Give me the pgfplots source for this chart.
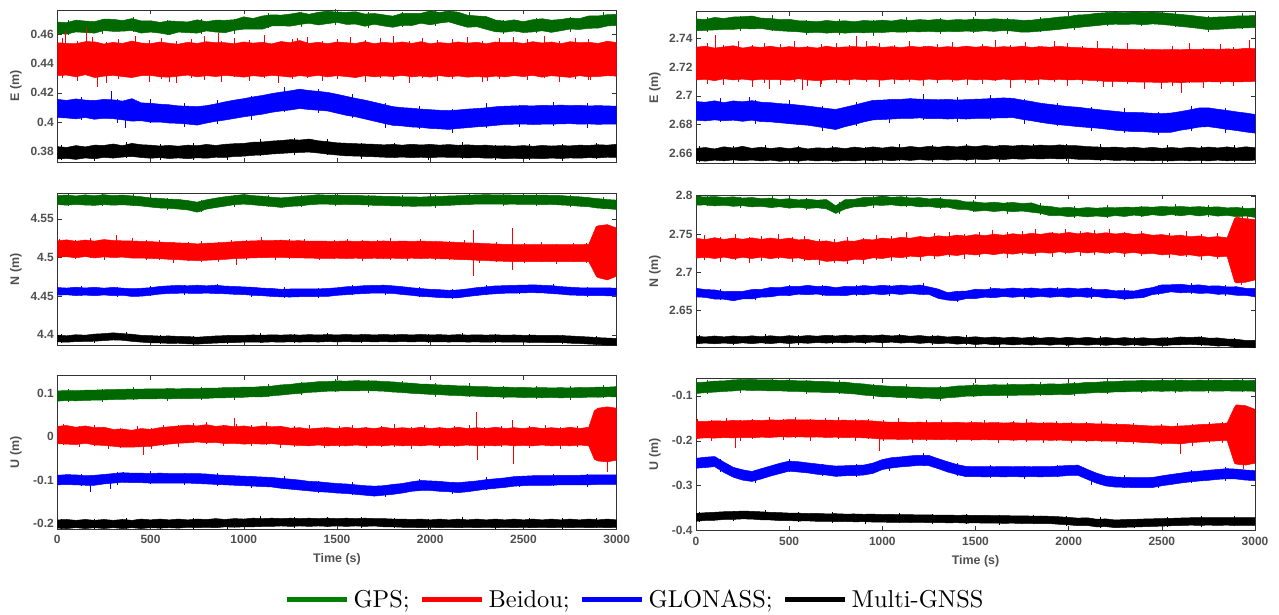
\documentclass[border=0pt]{standalone}
\usepackage{fontspec}
\usepackage{pgfplots}
\usepackage{pgfplotstable}
\pgfplotsset{compat=1.18}
\usepgfplotslibrary{fillbetween}

\newfontfamily\lsans{Liberation Sans}
\newfontfamily\lmten{lmroman10-regular.otf}
\newcommand{\tickfont}{\lsans\bfseries\fontsize{12}{12}\selectfont}
\newcommand{\labfont}{\lsans\bfseries\fontsize{12.5}{12.5}\selectfont}
\newcommand{\legfont}{\lmten\fontsize{24.5}{24.5}\selectfont}

\definecolor{gpsc}{RGB}{0,104,0}
\definecolor{gpsleg}{RGB}{0,128,0}
\definecolor{framec}{RGB}{50,50,50}
\definecolor{labelc}{RGB}{80,80,80}

% t, then upper/lower edge of the GPS, Beidou, GLONASS and Multi-GNSS bands
\pgfplotstableread{
t gu gl ru rl bu bl ku kl
0 0.4687 0.4607 0.4545 0.4318 0.4155 0.4030 0.3830 0.3745
50 0.4683 0.4604 0.4540 0.4322 0.4148 0.4027 0.3824 0.3749
100 0.4700 0.4619 0.4538 0.4310 0.4158 0.4021 0.3837 0.3742
150 0.4694 0.4615 0.4552 0.4325 0.4150 0.4030 0.3828 0.3752
200 0.4690 0.4611 0.4551 0.4305 0.4147 0.4018 0.3840 0.3746
250 0.4707 0.4628 0.4536 0.4315 0.4155 0.4025 0.3838 0.3756
300 0.4706 0.4623 0.4547 0.4320 0.4152 0.4022 0.3848 0.3751
350 0.4697 0.4624 0.4540 0.4312 0.4143 0.4014 0.3836 0.3758
400 0.4711 0.4629 0.4556 0.4305 0.4160 0.4005 0.3852 0.3762
450 0.4695 0.4611 0.4543 0.4318 0.4131 0.4008 0.3843 0.3755
500 0.4696 0.4618 0.4538 0.4320 0.4128 0.3998 0.3840 0.3750
550 0.4685 0.4611 0.4550 0.4310 0.4122 0.3999 0.3834 0.3754
600 0.4695 0.4600 0.4541 0.4308 0.4118 0.3992 0.3838 0.3748
650 0.4691 0.4618 0.4535 0.4315 0.4110 0.3990 0.3833 0.3752
700 0.4688 0.4614 0.4548 0.4322 0.4108 0.3985 0.3840 0.3747
750 0.4702 0.4611 0.4540 0.4310 0.4105 0.3978 0.3836 0.3753
800 0.4690 0.4626 0.4552 0.4318 0.4112 0.3992 0.3845 0.3750
850 0.4700 0.4618 0.4545 0.4312 0.4124 0.4004 0.3838 0.3757
900 0.4699 0.4614 0.4545 0.4320 0.4138 0.4013 0.3846 0.3755
950 0.4703 0.4630 0.4538 0.4315 0.4150 0.4024 0.3850 0.3762
1000 0.4723 0.4638 0.4550 0.4308 0.4160 0.4035 0.3852 0.3764
1050 0.4712 0.4638 0.4542 0.4318 0.4172 0.4044 0.3860 0.3770
1100 0.4729 0.4638 0.4548 0.4312 0.4182 0.4053 0.3862 0.3773
1150 0.4737 0.4660 0.4537 0.4320 0.4195 0.4066 0.3868 0.3779
1200 0.4735 0.4661 0.4553 0.4315 0.4205 0.4075 0.3872 0.3783
1250 0.4742 0.4659 0.4545 0.4308 0.4214 0.4082 0.3878 0.3787
1300 0.4753 0.4670 0.4560 0.4318 0.4225 0.4092 0.3875 0.3790
1350 0.4741 0.4679 0.4540 0.4312 0.4216 0.4085 0.3882 0.3792
1400 0.4754 0.4667 0.4548 0.4320 0.4210 0.4080 0.3870 0.3786
1450 0.4762 0.4676 0.4538 0.4310 0.4203 0.4075 0.3864 0.3778
1500 0.4755 0.4685 0.4550 0.4318 0.4190 0.4060 0.3856 0.3772
1550 0.4754 0.4671 0.4545 0.4312 0.4176 0.4045 0.3853 0.3766
1600 0.4758 0.4673 0.4540 0.4305 0.4162 0.4035 0.3850 0.3765
1650 0.4742 0.4658 0.4552 0.4318 0.4150 0.4020 0.3848 0.3762
1700 0.4746 0.4672 0.4538 0.4310 0.4135 0.4005 0.3846 0.3760
1750 0.4737 0.4660 0.4548 0.4316 0.4120 0.3990 0.3842 0.3757
1800 0.4728 0.4651 0.4542 0.4312 0.4105 0.3976 0.3845 0.3755
1850 0.4747 0.4665 0.4550 0.4320 0.4098 0.3972 0.3840 0.3758
1900 0.4746 0.4663 0.4540 0.4310 0.4094 0.3965 0.3846 0.3754
1950 0.4747 0.4679 0.4552 0.4316 0.4088 0.3962 0.3841 0.3757
2000 0.4764 0.4668 0.4538 0.4308 0.4084 0.3955 0.3845 0.3753
2050 0.4753 0.4680 0.4546 0.4318 0.4080 0.3952 0.3840 0.3758
2100 0.4763 0.4688 0.4540 0.4310 0.4078 0.3948 0.3844 0.3756
2150 0.4755 0.4669 0.4550 0.4316 0.4082 0.3955 0.3839 0.3756
2200 0.4734 0.4651 0.4542 0.4308 0.4088 0.3960 0.3842 0.3752
2250 0.4729 0.4655 0.4548 0.4312 0.4092 0.3966 0.3838 0.3755
2300 0.4725 0.4637 0.4537 0.4308 0.4097 0.3970 0.3840 0.3750
2350 0.4701 0.4620 0.4550 0.4315 0.4104 0.3976 0.3834 0.3752
2400 0.4693 0.4617 0.4545 0.4310 0.4108 0.3982 0.3836 0.3747
2450 0.4702 0.4625 0.4548 0.4318 0.4110 0.3984 0.3833 0.3750
2500 0.4690 0.4615 0.4540 0.4312 0.4112 0.3985 0.3837 0.3746
2550 0.4703 0.4619 0.4552 0.4320 0.4110 0.3982 0.3832 0.3750
2600 0.4710 0.4627 0.4543 0.4308 0.4114 0.3984 0.3838 0.3747
2650 0.4700 0.4616 0.4550 0.4318 0.4112 0.3985 0.3834 0.3751
2700 0.4705 0.4627 0.4538 0.4312 0.4116 0.3986 0.3837 0.3748
2750 0.4715 0.4639 0.4552 0.4306 0.4112 0.3988 0.3835 0.3752
2800 0.4711 0.4636 0.4545 0.4318 0.4114 0.3984 0.3840 0.3750
2850 0.4729 0.4644 0.4548 0.4310 0.4110 0.3986 0.3838 0.3754
2900 0.4729 0.4645 0.4540 0.4312 0.4112 0.3983 0.3843 0.3752
2950 0.4738 0.4660 0.4555 0.4318 0.4110 0.3985 0.3840 0.3757
3000 0.4740 0.4664 0.4546 0.4315 0.4108 0.3984 0.3846 0.3755
}\tabEl

\pgfplotstableread{
t gu gl ru rl bu bl ku kl
0 2.7535 2.7452 2.7338 2.7110 2.6960 2.6830 2.6633 2.6550
50 2.7530 2.7455 2.7345 2.7115 2.6955 2.6825 2.6640 2.6545
100 2.7545 2.7458 2.7332 2.7105 2.6965 2.6832 2.6630 2.6552
150 2.7538 2.7462 2.7340 2.7118 2.6952 2.6826 2.6645 2.6547
200 2.7548 2.7462 2.7348 2.7110 2.6964 2.6830 2.6636 2.6554
250 2.7550 2.7468 2.7332 2.7116 2.6958 2.6822 2.6648 2.6548
300 2.7555 2.7465 2.7342 2.7108 2.6966 2.6830 2.6634 2.6553
350 2.7540 2.7468 2.7336 2.7115 2.6955 2.6820 2.6642 2.6546
400 2.7538 2.7458 2.7345 2.7112 2.6952 2.6818 2.6633 2.6552
450 2.7530 2.7452 2.7334 2.7112 2.6945 2.6812 2.6640 2.6544
500 2.7532 2.7448 2.7342 2.7108 2.6942 2.6806 2.6632 2.6550
550 2.7522 2.7445 2.7335 2.7118 2.6935 2.6800 2.6641 2.6545
600 2.7520 2.7438 2.7340 2.7110 2.6928 2.6795 2.6630 2.6552
650 2.7515 2.7442 2.7332 2.7105 2.6920 2.6785 2.6638 2.6546
700 2.7524 2.7436 2.7345 2.7110 2.6912 2.6775 2.6634 2.6551
750 2.7518 2.7440 2.7335 2.7115 2.6905 2.6765 2.6640 2.6544
800 2.7522 2.7436 2.7340 2.7108 2.6920 2.6785 2.6632 2.6550
850 2.7515 2.7440 2.7342 2.7116 2.6935 2.6800 2.6643 2.6546
900 2.7524 2.7438 2.7338 2.7110 2.6952 2.6818 2.6635 2.6553
950 2.7520 2.7442 2.7345 2.7115 2.6968 2.6832 2.6644 2.6547
1000 2.7526 2.7440 2.7336 2.7108 2.6970 2.6835 2.6636 2.6554
1050 2.7520 2.7445 2.7342 2.7116 2.6974 2.6838 2.6645 2.6548
1100 2.7530 2.7442 2.7335 2.7110 2.6975 2.6842 2.6638 2.6555
1150 2.7524 2.7446 2.7344 2.7115 2.6980 2.6842 2.6647 2.6550
1200 2.7530 2.7445 2.7338 2.7108 2.6976 2.6846 2.6640 2.6556
1250 2.7526 2.7448 2.7345 2.7116 2.6974 2.6840 2.6648 2.6551
1300 2.7532 2.7444 2.7336 2.7110 2.6972 2.6842 2.6642 2.6557
1350 2.7525 2.7448 2.7342 2.7115 2.6975 2.6838 2.6650 2.6552
1400 2.7530 2.7446 2.7337 2.7108 2.6970 2.6841 2.6644 2.6558
1450 2.7528 2.7450 2.7345 2.7116 2.6973 2.6838 2.6652 2.6553
1500 2.7534 2.7447 2.7338 2.7110 2.6976 2.6842 2.6646 2.6559
1550 2.7530 2.7452 2.7344 2.7115 2.6978 2.6842 2.6654 2.6555
1600 2.7536 2.7448 2.7336 2.7108 2.6982 2.6845 2.6648 2.6561
1650 2.7532 2.7454 2.7342 2.7116 2.6985 2.6846 2.6655 2.6556
1700 2.7530 2.7450 2.7338 2.7110 2.6982 2.6848 2.6650 2.6562
1750 2.7525 2.7442 2.7345 2.7115 2.6970 2.6836 2.6656 2.6558
1800 2.7526 2.7444 2.7336 2.7108 2.6960 2.6826 2.6651 2.6563
1850 2.7534 2.7450 2.7342 2.7116 2.6948 2.6815 2.6657 2.6560
1900 2.7540 2.7456 2.7338 2.7110 2.6940 2.6805 2.6652 2.6564
1950 2.7548 2.7462 2.7344 2.7114 2.6932 2.6798 2.6658 2.6560
2000 2.7552 2.7470 2.7338 2.7110 2.6925 2.6792 2.6653 2.6563
2050 2.7562 2.7475 2.7335 2.7112 2.6920 2.6785 2.6652 2.6558
2100 2.7565 2.7482 2.7332 2.7108 2.6912 2.6780 2.6646 2.6558
2150 2.7574 2.7488 2.7330 2.7106 2.6905 2.6775 2.6644 2.6553
2200 2.7578 2.7495 2.7328 2.7100 2.6898 2.6768 2.6640 2.6555
2250 2.7582 2.7498 2.7326 2.7100 2.6892 2.6760 2.6643 2.6550
2300 2.7578 2.7496 2.7324 2.7098 2.6885 2.6755 2.6637 2.6552
2350 2.7583 2.7499 2.7322 2.7096 2.6884 2.6750 2.6642 2.6548
2400 2.7580 2.7494 2.7320 2.7095 2.6882 2.6750 2.6635 2.6551
2450 2.7582 2.7500 2.7322 2.7094 2.6878 2.6746 2.6641 2.6547
2500 2.7578 2.7496 2.7320 2.7092 2.6876 2.6745 2.6634 2.6550
2550 2.7572 2.7490 2.7322 2.7095 2.6880 2.6746 2.6640 2.6546
2600 2.7566 2.7482 2.7320 2.7090 2.6890 2.6760 2.6635 2.6551
2650 2.7560 2.7476 2.7324 2.7096 2.6902 2.6770 2.6642 2.6547
2700 2.7552 2.7468 2.7322 2.7094 2.6915 2.6782 2.6636 2.6551
2750 2.7545 2.7460 2.7325 2.7098 2.6916 2.6785 2.6643 2.6546
2800 2.7548 2.7462 2.7323 2.7096 2.6906 2.6776 2.6637 2.6552
2850 2.7550 2.7466 2.7326 2.7098 2.6898 2.6766 2.6644 2.6547
2900 2.7555 2.7470 2.7324 2.7096 2.6888 2.6758 2.6636 2.6551
2950 2.7556 2.7472 2.7330 2.7098 2.6880 2.6748 2.6645 2.6548
3000 2.7558 2.7475 2.7328 2.7100 2.6870 2.6740 2.6638 2.6552
}\tabEr

\pgfplotstableread{
t gu gl ru rl bu bl ku kl
0 4.5800 4.5685 4.5215 4.5005 4.4612 4.4512 4.3995 4.3910
50 4.5808 4.5676 4.5228 4.5010 4.4605 4.4518 4.3988 4.3905
100 4.5795 4.5686 4.5210 4.4996 4.4616 4.4508 4.4002 4.3913
150 4.5810 4.5678 4.5226 4.5012 4.4606 4.4514 4.3996 4.3915
200 4.5798 4.5674 4.5212 4.4994 4.4615 4.4506 4.4010 4.3918
250 4.5812 4.5684 4.5232 4.5008 4.4604 4.4516 4.4016 4.3926
300 4.5800 4.5676 4.5220 4.5000 4.4614 4.4506 4.4026 4.3934
350 4.5808 4.5682 4.5216 4.5005 4.4604 4.4512 4.4016 4.3930
400 4.5796 4.5674 4.5214 4.4993 4.4596 4.4496 4.4008 4.3916
450 4.5786 4.5666 4.5208 4.4992 4.4602 4.4500 4.3994 4.3906
500 4.5770 4.5652 4.5206 4.4988 4.4610 4.4512 4.3990 4.3898
550 4.5764 4.5640 4.5198 4.4985 4.4626 4.4527 4.3984 4.3896
600 4.5755 4.5636 4.5196 4.4976 4.4634 4.4535 4.3986 4.3890
650 4.5750 4.5626 4.5188 4.4972 4.4640 4.4538 4.3980 4.3892
700 4.5736 4.5615 4.5186 4.4964 4.4634 4.4538 4.3978 4.3884
750 4.5716 4.5586 4.5176 4.4960 4.4642 4.4535 4.3970 4.3880
800 4.5746 4.5625 4.5184 4.4964 4.4634 4.4540 4.3978 4.3888
850 4.5768 4.5646 4.5188 4.4970 4.4642 4.4534 4.3986 4.3894
900 4.5786 4.5664 4.5196 4.4976 4.4630 4.4531 4.3990 4.3898
950 4.5800 4.5683 4.5204 4.4986 4.4626 4.4524 4.3995 4.3901
1000 4.5814 4.5690 4.5212 4.4990 4.4620 4.4521 4.3994 4.3906
1050 4.5800 4.5681 4.5214 4.4996 4.4614 4.4511 4.3999 4.3907
1100 4.5793 4.5669 4.5220 4.4998 4.4604 4.4506 4.3995 4.3904
1150 4.5779 4.5661 4.5218 4.5001 4.4600 4.4497 4.4001 4.3909
1200 4.5771 4.5647 4.5224 4.5002 4.4589 4.4491 4.3997 4.3905
1250 4.5780 4.5661 4.5216 4.4997 4.4593 4.4489 4.4002 4.3911
1300 4.5791 4.5667 4.5217 4.4995 4.4593 4.4493 4.3997 4.3907
1350 4.5800 4.5681 4.5210 4.4992 4.4595 4.4493 4.4003 4.3911
1400 4.5812 4.5689 4.5212 4.4989 4.4594 4.4496 4.3999 4.3907
1450 4.5805 4.5689 4.5210 4.4988 4.4600 4.4497 4.4004 4.3913
1500 4.5807 4.5684 4.5209 4.4991 4.4609 4.4511 4.3999 4.3909
1550 4.5802 4.5686 4.5214 4.4987 4.4622 4.4519 4.4005 4.3913
1600 4.5804 4.5683 4.5207 4.4991 4.4627 4.4529 4.3999 4.3909
1650 4.5797 4.5681 4.5213 4.4987 4.4637 4.4534 4.4005 4.3913
1700 4.5796 4.5674 4.5207 4.4991 4.4639 4.4541 4.3999 4.3909
1750 4.5791 4.5673 4.5214 4.4987 4.4642 4.4539 4.4005 4.3913
1800 4.5789 4.5667 4.5207 4.4991 4.4634 4.4536 4.3999 4.3909
1850 4.5784 4.5666 4.5213 4.4987 4.4623 4.4521 4.4005 4.3913
1900 4.5784 4.5662 4.5207 4.4991 4.4609 4.4511 4.3999 4.3909
1950 4.5781 4.5663 4.5213 4.4987 4.4599 4.4497 4.4005 4.3913
2000 4.5787 4.5665 4.5207 4.4991 4.4589 4.4491 4.3999 4.3909
2050 4.5789 4.5671 4.5206 4.4984 4.4584 4.4482 4.4003 4.3911
2100 4.5796 4.5674 4.5199 4.4981 4.4576 4.4478 4.3997 4.3907
2150 4.5799 4.5681 4.5196 4.4974 4.4581 4.4479 4.4003 4.3911
2200 4.5806 4.5684 4.5189 4.4971 4.4594 4.4496 4.3997 4.3907
2250 4.5809 4.5691 4.5186 4.4964 4.4611 4.4509 4.4001 4.3909
2300 4.5813 4.5691 4.5179 4.4961 4.4621 4.4523 4.3997 4.3905
2350 4.5809 4.5691 4.5176 4.4954 4.4633 4.4531 4.4001 4.3909
2400 4.5810 4.5688 4.5169 4.4951 4.4636 4.4538 4.3995 4.3907
2450 4.5807 4.5689 4.5168 4.4946 4.4641 4.4539 4.3999 4.3905
2500 4.5808 4.5686 4.5166 4.4948 4.4642 4.4544 4.3994 4.3906
2550 4.5805 4.5687 4.5168 4.4946 4.4647 4.4545 4.3996 4.3902
2600 4.5806 4.5684 4.5166 4.4948 4.4641 4.4543 4.3993 4.3903
2650 4.5804 4.5686 4.5168 4.4946 4.4636 4.4534 4.3995 4.3899
2700 4.5801 4.5679 4.5166 4.4948 4.4624 4.4526 4.3991 4.3901
2750 4.5791 4.5673 4.5168 4.4946 4.4616 4.4514 4.3986 4.3892
2800 4.5785 4.5663 4.5166 4.4948 4.4609 4.4511 4.3979 4.3889
2850 4.5774 4.5656 4.5170 4.4948 4.4609 4.4507 4.3973 4.3881
2890 4.5763 4.5641 4.5400 4.4760 4.4606 4.4507 4.3966 4.3877
2900 4.5761 4.5639 4.5410 4.4740 4.4606 4.4508 4.3964 4.3876
2950 4.5749 4.5631 4.5425 4.4710 4.4607 4.4505 4.3959 4.3867
3000 4.5742 4.5620 4.5380 4.4760 4.4604 4.4506 4.3954 4.3867
}\tabNl

\pgfplotstableread{
t gu gl ru rl bu bl ku kl
0 2.7992 2.7878 2.7445 2.7185 2.6792 2.6678 2.6165 2.6068
50 2.7984 2.7880 2.7428 2.7196 2.6774 2.6672 2.6155 2.6075
100 2.7990 2.7868 2.7452 2.7180 2.6770 2.6650 2.6168 2.6066
150 2.7978 2.7876 2.7430 2.7198 2.6748 2.6648 2.6156 2.6076
200 2.7986 2.7862 2.7448 2.7176 2.6752 2.6628 2.6169 2.6066
250 2.7970 2.7870 2.7432 2.7196 2.6750 2.6652 2.6158 2.6078
300 2.7978 2.7855 2.7450 2.7180 2.6775 2.6652 2.6170 2.6068
350 2.7962 2.7862 2.7430 2.7198 2.6776 2.6676 2.6158 2.6079
400 2.7970 2.7846 2.7448 2.7178 2.6802 2.6678 2.6171 2.6068
450 2.7952 2.7856 2.7430 2.7196 2.6800 2.6700 2.6159 2.6080
500 2.7962 2.7838 2.7446 2.7180 2.6818 2.6696 2.6172 2.6069
550 2.7946 2.7850 2.7424 2.7188 2.6814 2.6714 2.6162 2.6080
600 2.7956 2.7834 2.7430 2.7162 2.6830 2.6708 2.6174 2.6072
650 2.7942 2.7843 2.7402 2.7168 2.6814 2.6716 2.6165 2.6082
700 2.7951 2.7829 2.7410 2.7142 2.6819 2.6697 2.6177 2.6075
750 2.7868 2.7770 2.7386 2.7152 2.6799 2.6700 2.6167 2.6084
800 2.7949 2.7827 2.7412 2.7145 2.6816 2.6694 2.6179 2.6076
850 2.7954 2.7856 2.7405 2.7171 2.6811 2.6713 2.6169 2.6087
900 2.7979 2.7857 2.7432 2.7165 2.6827 2.6705 2.6180 2.6078
950 2.7977 2.7879 2.7423 2.7189 2.6817 2.6719 2.6170 2.6089
1000 2.7996 2.7874 2.7447 2.7180 2.6830 2.6708 2.6182 2.6078
1050 2.7980 2.7882 2.7435 2.7201 2.6819 2.6721 2.6168 2.6088
1100 2.7988 2.7866 2.7457 2.7190 2.6832 2.6710 2.6178 2.6075
1150 2.7971 2.7873 2.7445 2.7211 2.6821 2.6723 2.6164 2.6084
1200 2.7976 2.7854 2.7467 2.7200 2.6834 2.6712 2.6174 2.6071
1250 2.7959 2.7861 2.7455 2.7221 2.6809 2.6711 2.6160 2.6080
1300 2.7966 2.7844 2.7477 2.7210 2.6781 2.6659 2.6169 2.6066
1350 2.7949 2.7851 2.7465 2.7231 2.6734 2.6636 2.6154 2.6076
1400 2.7946 2.7824 2.7486 2.7219 2.6751 2.6629 2.6163 2.6061
1450 2.7919 2.7821 2.7473 2.7239 2.6754 2.6656 2.6148 2.6070
1500 2.7919 2.7797 2.7493 2.7226 2.6779 2.6657 2.6158 2.6056
1550 2.7905 2.7807 2.7479 2.7245 2.6773 2.6675 2.6144 2.6066
1600 2.7916 2.7794 2.7498 2.7231 2.6790 2.6668 2.6155 2.6052
1650 2.7903 2.7805 2.7484 2.7250 2.6782 2.6684 2.6142 2.6063
1700 2.7913 2.7791 2.7504 2.7237 2.6795 2.6673 2.6153 2.6050
1750 2.7899 2.7801 2.7490 2.7256 2.6783 2.6685 2.6140 2.6061
1800 2.7907 2.7785 2.7510 2.7243 2.6795 2.6673 2.6152 2.6049
1850 2.7869 2.7771 2.7496 2.7262 2.6783 2.6685 2.6139 2.6060
1900 2.7861 2.7739 2.7516 2.7249 2.6795 2.6673 2.6151 2.6048
1950 2.7841 2.7743 2.7502 2.7268 2.6783 2.6685 2.6139 2.6060
2000 2.7849 2.7727 2.7521 2.7254 2.6795 2.6673 2.6151 2.6048
2050 2.7835 2.7737 2.7503 2.7269 2.6783 2.6685 2.6138 2.6059
2100 2.7846 2.7724 2.7519 2.7252 2.6795 2.6673 2.6150 2.6047
2150 2.7838 2.7736 2.7502 2.7266 2.6772 2.6684 2.6137 2.6058
2200 2.7846 2.7724 2.7517 2.7249 2.6776 2.6664 2.6149 2.6046
2250 2.7843 2.7741 2.7500 2.7264 2.6758 2.6666 2.6136 2.6057
2300 2.7851 2.7729 2.7514 2.7246 2.6762 2.6650 2.6147 2.6045
2350 2.7849 2.7747 2.7496 2.7260 2.6755 2.6661 2.6134 2.6055
2400 2.7856 2.7734 2.7505 2.7239 2.6781 2.6669 2.6145 2.6043
2450 2.7851 2.7753 2.7484 2.7248 2.6801 2.6709 2.6132 2.6053
2500 2.7860 2.7738 2.7493 2.7227 2.6836 2.6724 2.6143 2.6041
2550 2.7854 2.7756 2.7474 2.7238 2.6837 2.6745 2.6140 2.6050
2600 2.7860 2.7738 2.7485 2.7219 2.6844 2.6732 2.6155 2.6053
2650 2.7852 2.7754 2.7465 2.7229 2.6830 2.6738 2.6148 2.6058
2700 2.7858 2.7736 2.7475 2.7209 2.6836 2.6724 2.6155 2.6052
2750 2.7850 2.7752 2.7456 2.7220 2.6820 2.6728 2.6140 2.6048
2800 2.7856 2.7734 2.7467 2.7201 2.6824 2.6712 2.6142 2.6036
2850 2.7842 2.7744 2.7450 2.7210 2.6808 2.6716 2.6128 2.6040
2890 2.7846 2.7730 2.7700 2.6880 2.6811 2.6702 2.6126 2.6024
2900 2.7848 2.7726 2.7720 2.6860 2.6812 2.6700 2.6125 2.6020
2950 2.7834 2.7736 2.7700 2.6870 2.6791 2.6699 2.6110 2.6024
3000 2.7839 2.7717 2.7690 2.6900 2.6790 2.6678 2.6112 2.6015
}\tabNr

\pgfplotstableread{
t gu gl ru rl bu bl ku kl
0 0.1058 0.0822 0.024 -0.016 -0.0890 -0.1110 -0.192 -0.211
50 0.1068 0.0836 0.026 -0.017 -0.0875 -0.1105 -0.191 -0.212
100 0.1062 0.0830 0.022 -0.018 -0.0880 -0.1110 -0.193 -0.210
150 0.1075 0.0840 0.025 -0.015 -0.0900 -0.1120 -0.191 -0.212
200 0.1078 0.0845 0.021 -0.019 -0.0890 -0.1120 -0.193 -0.210
250 0.1085 0.0850 0.022 -0.020 -0.0870 -0.1090 -0.191 -0.212
300 0.1090 0.0860 0.017 -0.022 -0.0850 -0.1070 -0.193 -0.210
350 0.1094 0.0865 0.018 -0.024 -0.0830 -0.1050 -0.191 -0.212
400 0.1102 0.0868 0.015 -0.024 -0.0840 -0.1060 -0.193 -0.210
450 0.1100 0.0874 0.019 -0.023 -0.0840 -0.1060 -0.190 -0.212
500 0.1108 0.0872 0.017 -0.022 -0.0850 -0.1070 -0.192 -0.210
550 0.1103 0.0880 0.021 -0.019 -0.0840 -0.1070 -0.190 -0.211
600 0.1112 0.0875 0.023 -0.017 -0.0850 -0.1070 -0.192 -0.210
650 0.1106 0.0884 0.025 -0.015 -0.0850 -0.1070 -0.190 -0.211
700 0.1116 0.0878 0.027 -0.014 -0.0850 -0.1070 -0.192 -0.209
750 0.1110 0.0888 0.025 -0.012 -0.0850 -0.1080 -0.190 -0.210
800 0.1124 0.0886 0.028 -0.014 -0.0860 -0.1090 -0.191 -0.209
850 0.1122 0.0898 0.024 -0.013 -0.0880 -0.1100 -0.189 -0.210
900 0.1136 0.0900 0.026 -0.016 -0.0890 -0.1110 -0.191 -0.208
950 0.1134 0.0910 0.023 -0.015 -0.0900 -0.1120 -0.189 -0.209
1000 0.1148 0.0912 0.025 -0.017 -0.0910 -0.1130 -0.190 -0.208
1050 0.1145 0.0924 0.022 -0.016 -0.0920 -0.1140 -0.188 -0.208
1100 0.1160 0.0922 0.025 -0.017 -0.0930 -0.1150 -0.189 -0.207
1150 0.1170 0.0945 0.023 -0.016 -0.0940 -0.1160 -0.188 -0.207
1200 0.1198 0.0962 0.024 -0.018 -0.0960 -0.1190 -0.189 -0.206
1250 0.1210 0.0985 0.020 -0.019 -0.0980 -0.1210 -0.188 -0.207
1300 0.1238 0.1002 0.021 -0.020 -0.1000 -0.1230 -0.189 -0.206
1350 0.1250 0.1025 0.018 -0.021 -0.1030 -0.1250 -0.188 -0.207
1400 0.1272 0.1035 0.020 -0.019 -0.1040 -0.1270 -0.189 -0.206
1450 0.1275 0.1052 0.021 -0.021 -0.1060 -0.1280 -0.188 -0.207
1500 0.1290 0.1055 0.019 -0.020 -0.1080 -0.1300 -0.189 -0.206
1550 0.1285 0.1062 0.022 -0.021 -0.1090 -0.1310 -0.188 -0.207
1600 0.1296 0.1060 0.019 -0.019 -0.1110 -0.1330 -0.189 -0.206
1650 0.1290 0.1065 0.021 -0.021 -0.1130 -0.1350 -0.188 -0.207
1700 0.1292 0.1060 0.019 -0.020 -0.1140 -0.1370 -0.189 -0.206
1750 0.1275 0.1052 0.022 -0.021 -0.1130 -0.1350 -0.189 -0.208
1800 0.1268 0.1032 0.019 -0.019 -0.1100 -0.1330 -0.190 -0.208
1850 0.1246 0.1022 0.021 -0.021 -0.1080 -0.1300 -0.190 -0.209
1900 0.1238 0.1002 0.019 -0.020 -0.1040 -0.1260 -0.191 -0.209
1950 0.1215 0.0992 0.022 -0.021 -0.1010 -0.1240 -0.190 -0.210
2000 0.1212 0.0978 0.019 -0.019 -0.1020 -0.1240 -0.192 -0.209
2050 0.1196 0.0972 0.021 -0.021 -0.1030 -0.1260 -0.190 -0.210
2100 0.1192 0.0958 0.019 -0.020 -0.1050 -0.1270 -0.192 -0.209
2150 0.1175 0.0952 0.022 -0.021 -0.1060 -0.1290 -0.190 -0.210
2200 0.1172 0.0938 0.019 -0.019 -0.1040 -0.1270 -0.192 -0.209
2250 0.1158 0.0935 0.021 -0.021 -0.1020 -0.1240 -0.190 -0.210
2300 0.1157 0.0922 0.019 -0.020 -0.0990 -0.1210 -0.192 -0.209
2350 0.1145 0.0924 0.022 -0.021 -0.0970 -0.1190 -0.190 -0.210
2400 0.1148 0.0912 0.019 -0.019 -0.0950 -0.1170 -0.192 -0.209
2450 0.1136 0.0915 0.021 -0.021 -0.0920 -0.1140 -0.190 -0.210
2500 0.1140 0.0905 0.019 -0.020 -0.0910 -0.1130 -0.192 -0.209
2550 0.1130 0.0910 0.022 -0.021 -0.0900 -0.1120 -0.190 -0.210
2600 0.1136 0.0900 0.019 -0.019 -0.0900 -0.1120 -0.192 -0.209
2650 0.1128 0.0908 0.021 -0.021 -0.0900 -0.1120 -0.190 -0.210
2700 0.1134 0.0898 0.019 -0.020 -0.0890 -0.1110 -0.192 -0.209
2750 0.1126 0.0906 0.022 -0.021 -0.0890 -0.1110 -0.190 -0.210
2800 0.1138 0.0902 0.019 -0.019 -0.0890 -0.1110 -0.192 -0.209
2850 0.1135 0.0915 0.022 -0.021 -0.0880 -0.1110 -0.190 -0.210
2880 0.1142 0.0914 0.060 -0.052 -0.0880 -0.1105 -0.191 -0.2095
2900 0.1148 0.0912 0.066 -0.056 -0.0880 -0.1100 -0.192 -0.209
2950 0.1145 0.0925 0.069 -0.058 -0.0880 -0.1100 -0.190 -0.210
3000 0.1158 0.0922 0.066 -0.054 -0.0880 -0.1100 -0.192 -0.209
}\tabUl

\pgfplotstableread{
t gu gl ru rl bu bl ku kl
0 -0.0705 -0.0950 -0.1565 -0.1950 -0.2390 -0.2610 -0.3615 -0.3790
50 -0.0695 -0.0928 -0.1570 -0.1935 -0.2365 -0.2595 -0.3600 -0.3772
100 -0.0672 -0.0918 -0.1555 -0.1940 -0.2350 -0.2575 -0.3590 -0.3768
150 -0.0668 -0.0902 -0.1562 -0.1930 -0.2475 -0.2705 -0.3578 -0.3750
200 -0.0645 -0.0892 -0.1548 -0.1935 -0.2590 -0.2810 -0.3575 -0.3748
250 -0.0638 -0.0872 -0.1555 -0.1928 -0.2645 -0.2875 -0.3562 -0.3738
300 -0.0635 -0.0882 -0.1542 -0.1932 -0.2682 -0.2905 -0.3570 -0.3742
350 -0.0648 -0.0880 -0.1550 -0.1920 -0.2620 -0.2850 -0.3580 -0.3758
400 -0.0645 -0.0892 -0.1535 -0.1925 -0.2560 -0.2785 -0.3592 -0.3762
450 -0.0656 -0.0890 -0.1542 -0.1912 -0.2500 -0.2730 -0.3598 -0.3775
500 -0.0652 -0.0900 -0.1528 -0.1918 -0.2452 -0.2675 -0.3608 -0.3775
550 -0.0668 -0.0902 -0.1535 -0.1910 -0.2465 -0.2695 -0.3610 -0.3785
600 -0.0665 -0.0915 -0.1532 -0.1920 -0.2492 -0.2715 -0.3618 -0.3782
650 -0.0680 -0.0915 -0.1540 -0.1915 -0.2515 -0.2745 -0.3616 -0.3792
700 -0.0682 -0.0930 -0.1538 -0.1925 -0.2540 -0.2762 -0.3625 -0.3790
750 -0.0695 -0.0928 -0.1545 -0.1920 -0.2562 -0.2792 -0.3622 -0.3798
800 -0.0695 -0.0945 -0.1542 -0.1930 -0.2555 -0.2778 -0.3630 -0.3795
850 -0.0722 -0.0958 -0.1550 -0.1925 -0.2545 -0.2775 -0.3628 -0.3802
900 -0.0735 -0.0985 -0.1548 -0.1935 -0.2540 -0.2762 -0.3635 -0.3800
950 -0.0762 -0.0998 -0.1560 -0.1945 -0.2495 -0.2725 -0.3632 -0.3808
1000 -0.0775 -0.1025 -0.1578 -0.1965 -0.2418 -0.2640 -0.3640 -0.3810
1050 -0.0790 -0.1025 -0.1588 -0.1962 -0.2375 -0.2605 -0.3638 -0.3815
1100 -0.0792 -0.1040 -0.1582 -0.1970 -0.2358 -0.2580 -0.3645 -0.3812
1150 -0.0805 -0.1040 -0.1592 -0.1965 -0.2335 -0.2565 -0.3643 -0.3818
1200 -0.0808 -0.1055 -0.1585 -0.1972 -0.2322 -0.2545 -0.3650 -0.3815
1250 -0.0818 -0.1052 -0.1595 -0.1968 -0.2325 -0.2555 -0.3647 -0.3820
1300 -0.0815 -0.1068 -0.1588 -0.1975 -0.2398 -0.2620 -0.3655 -0.3818
1350 -0.0808 -0.1042 -0.1598 -0.1970 -0.2465 -0.2695 -0.3652 -0.3825
1400 -0.0782 -0.1030 -0.1590 -0.1978 -0.2528 -0.2750 -0.3658 -0.3822
1450 -0.0775 -0.1008 -0.1600 -0.1972 -0.2570 -0.2800 -0.3655 -0.3830
1500 -0.0758 -0.1005 -0.1592 -0.1980 -0.2575 -0.2797 -0.3662 -0.3826
1550 -0.0762 -0.0995 -0.1602 -0.1975 -0.2572 -0.2802 -0.3658 -0.3832
1600 -0.0752 -0.0998 -0.1594 -0.1982 -0.2578 -0.2797 -0.3665 -0.3830
1650 -0.0758 -0.0988 -0.1605 -0.1978 -0.2572 -0.2802 -0.3662 -0.3836
1700 -0.0746 -0.0992 -0.1596 -0.1985 -0.2578 -0.2797 -0.3670 -0.3833
1750 -0.0752 -0.0982 -0.1608 -0.1980 -0.2572 -0.2802 -0.3668 -0.3840
1800 -0.0740 -0.0986 -0.1598 -0.1988 -0.2578 -0.2797 -0.3675 -0.3838
1850 -0.0746 -0.0975 -0.1610 -0.1982 -0.2572 -0.2802 -0.3673 -0.3845
1900 -0.0733 -0.0980 -0.1600 -0.1990 -0.2575 -0.2795 -0.3680 -0.3843
1950 -0.0740 -0.0968 -0.1612 -0.1985 -0.2560 -0.2790 -0.3690 -0.3858
2000 -0.0728 -0.0975 -0.1605 -0.1995 -0.2550 -0.2772 -0.3705 -0.3870
2050 -0.0722 -0.0950 -0.1618 -0.1992 -0.2542 -0.2770 -0.3720 -0.3888
2100 -0.0698 -0.0942 -0.1610 -0.2002 -0.2635 -0.2858 -0.3712 -0.3885
2150 -0.0698 -0.0925 -0.1625 -0.1998 -0.2720 -0.2945 -0.3745 -0.3915
2200 -0.0682 -0.0928 -0.1622 -0.2010 -0.2785 -0.3005 -0.3738 -0.3910
2250 -0.0682 -0.0912 -0.1638 -0.2008 -0.2805 -0.3030 -0.3762 -0.3932
2300 -0.0668 -0.0912 -0.1635 -0.2022 -0.2815 -0.3035 -0.3752 -0.3925
2350 -0.0668 -0.0898 -0.1650 -0.2022 -0.2818 -0.3042 -0.3748 -0.3918
2400 -0.0655 -0.0902 -0.1660 -0.2040 -0.2820 -0.3040 -0.3740 -0.3912
2450 -0.0665 -0.0892 -0.1672 -0.2048 -0.2815 -0.3040 -0.3735 -0.3905
2500 -0.0652 -0.0900 -0.1665 -0.2060 -0.2780 -0.3000 -0.3730 -0.3898
2550 -0.0662 -0.0892 -0.1680 -0.2058 -0.2748 -0.2972 -0.3725 -0.3890
2600 -0.0650 -0.0900 -0.1670 -0.2070 -0.2720 -0.2940 -0.3718 -0.3885
2650 -0.0662 -0.0892 -0.1660 -0.2042 -0.2690 -0.2915 -0.3712 -0.3878
2700 -0.0650 -0.0898 -0.1640 -0.2030 -0.2675 -0.2895 -0.3710 -0.3880
2750 -0.0660 -0.0890 -0.1632 -0.2012 -0.2655 -0.2880 -0.3708 -0.3878
2800 -0.0648 -0.0898 -0.1618 -0.2002 -0.2638 -0.2858 -0.3712 -0.3880
2850 -0.0660 -0.0890 -0.1608 -0.1990 -0.2620 -0.2845 -0.3708 -0.3878
2890 -0.0652 -0.0896 -0.1250 -0.2500 -0.2628 -0.2848 -0.3710 -0.3881
2900 -0.0650 -0.0898 -0.1200 -0.2520 -0.2630 -0.2850 -0.3712 -0.3882
2950 -0.0662 -0.0892 -0.1220 -0.2540 -0.2650 -0.2875 -0.3708 -0.3880
3000 -0.0655 -0.0900 -0.1300 -0.2500 -0.2665 -0.2885 -0.3712 -0.3882
}\tabUr

% needles sticking out of a band: t, centre, reach up, reach down
\pgfplotstableread{
t c p m
25 0.4430 0.0144 0.0129
110 0.4430 0.0127 0.0150
190 0.4430 0.0155 0.0124
265 0.4430 0.0121 0.0159
330 0.4430 0.0138 0.0136
420 0.4430 0.0161 0.0122
495 0.4430 0.0132 0.0153
560 0.4430 0.0150 0.0132
640 0.4430 0.0124 0.0163
720 0.4430 0.0140 0.0127
790 0.4430 0.0159 0.0143
880 0.4430 0.0129 0.0156
950 0.4430 0.0147 0.0123
1030 0.4430 0.0136 0.0147
1110 0.4430 0.0167 0.0131
1185 0.4430 0.0122 0.0161
1260 0.4430 0.0143 0.0138
1340 0.4430 0.0152 0.0125
1420 0.4430 0.0127 0.0151
1500 0.4430 0.0138 0.0135
1570 0.4430 0.0156 0.0121
1650 0.4430 0.0131 0.0155
1730 0.4430 0.0145 0.0130
1800 0.4430 0.0163 0.0140
1890 0.4430 0.0125 0.0160
1960 0.4430 0.0150 0.0128
2040 0.4430 0.0133 0.0146
2120 0.4430 0.0141 0.0133
2200 0.4430 0.0154 0.0124
2280 0.4430 0.0128 0.0154
2370 0.4430 0.0146 0.0137
2520 0.4430 0.0137 0.0145
2610 0.4430 0.0161 0.0127
2690 0.4430 0.0130 0.0158
2780 0.4430 0.0148 0.0132
2850 0.4430 0.0139 0.0144
}\ndElr
\pgfplotstableread{
t c p m
60 0.4649 0.0052 0.0048
240 0.4662 0.0046 0.0057
410 0.4661 0.0058 0.0044
590 0.4650 0.0048 0.0054
770 0.4656 0.0054 0.0050
950 0.4667 0.0044 0.0059
1130 0.4690 0.0060 0.0046
1310 0.4708 0.0050 0.0053
1490 0.4719 0.0056 0.0049
1670 0.4706 0.0047 0.0058
1850 0.4701 0.0053 0.0045
2030 0.4717 0.0049 0.0055
2210 0.4699 0.0059 0.0047
2390 0.4657 0.0045 0.0052
2570 0.4661 0.0055 0.0050
2750 0.4672 0.0051 0.0056
2930 0.4700 0.0057 0.0046
}\ndElg
\pgfplotstableread{
t c p m
130 0.4089 0.0083 0.0077
320 0.4084 0.0074 0.0091
500 0.4065 0.0093 0.0070
680 0.4050 0.0077 0.0087
860 0.4067 0.0086 0.0080
1040 0.4106 0.0070 0.0095
1220 0.4144 0.0096 0.0074
1400 0.4146 0.0080 0.0085
1580 0.4103 0.0090 0.0078
1760 0.4052 0.0076 0.0093
1940 0.4026 0.0084 0.0072
2120 0.4014 0.0078 0.0088
2300 0.4034 0.0095 0.0076
2480 0.4047 0.0072 0.0083
2660 0.4049 0.0088 0.0079
2840 0.4049 0.0082 0.0090
}\ndElb
\pgfplotstableread{
t c p m
20 0.3788 0.0056 0.0052
200 0.3793 0.0049 0.0061
370 0.3797 0.0062 0.0047
550 0.3794 0.0052 0.0058
730 0.3794 0.0058 0.0054
910 0.3800 0.0047 0.0064
1090 0.3816 0.0065 0.0049
1270 0.3832 0.0054 0.0057
1450 0.3821 0.0060 0.0052
1630 0.3806 0.0051 0.0062
1810 0.3800 0.0057 0.0048
1990 0.3799 0.0052 0.0059
2170 0.3798 0.0064 0.0051
2350 0.3793 0.0048 0.0056
2530 0.3791 0.0059 0.0053
2710 0.3792 0.0055 0.0060
2890 0.3797 0.0061 0.0050
}\ndElk

\pgfplotstableread{
t c p m
60 2.7224 0.0144 0.0139
145 2.7224 0.0132 0.0148
225 2.7224 0.0158 0.0130
300 2.7224 0.0127 0.0161
365 2.7224 0.0145 0.0137
455 2.7224 0.0137 0.0146
530 2.7224 0.0154 0.0128
595 2.7224 0.0124 0.0154
675 2.7224 0.0133 0.0141
755 2.7224 0.0146 0.0133
825 2.7224 0.0128 0.0150
915 2.7224 0.0160 0.0125
985 2.7224 0.0140 0.0163
1065 2.7224 0.0130 0.0145
1145 2.7224 0.0155 0.0131
1220 2.7224 0.0121 0.0156
1295 2.7224 0.0135 0.0138
1375 2.7224 0.0151 0.0127
1455 2.7224 0.0125 0.0152
1535 2.7224 0.0138 0.0143
1605 2.7224 0.0161 0.0122
1685 2.7224 0.0131 0.0167
1765 2.7224 0.0147 0.0136
1835 2.7224 0.0123 0.0147
1925 2.7224 0.0156 0.0129
1995 2.7224 0.0143 0.0159
2075 2.7222 0.0127 0.0140
2155 2.7218 0.0163 0.0124
2235 2.7213 0.0132 0.0150
2315 2.7211 0.0153 0.0132
2405 2.7209 0.0122 0.0161
2555 2.7209 0.0136 0.0138
2645 2.7209 0.0159 0.0121
2725 2.7209 0.0124 0.0155
2815 2.7209 0.0150 0.0127
2885 2.7209 0.0129 0.0144
}\ndErr
\pgfplotstableread{
t c p m
60 2.7493 0.0055 0.0050
240 2.7508 0.0048 0.0060
410 2.7498 0.0061 0.0046
590 2.7479 0.0050 0.0057
770 2.7479 0.0057 0.0053
950 2.7481 0.0046 0.0062
1130 2.7485 0.0063 0.0048
1310 2.7488 0.0053 0.0056
1490 2.7490 0.0059 0.0051
1670 2.7492 0.0050 0.0061
1850 2.7492 0.0055 0.0047
2030 2.7514 0.0051 0.0058
2210 2.7537 0.0062 0.0050
2390 2.7537 0.0047 0.0055
2570 2.7530 0.0058 0.0052
2750 2.7503 0.0054 0.0059
2930 2.7514 0.0060 0.0049
}\ndErg
\pgfplotstableread{
t c p m
130 2.6897 0.0086 0.0079
320 2.6896 0.0076 0.0094
500 2.6874 0.0096 0.0073
680 2.6848 0.0079 0.0090
860 2.6870 0.0089 0.0083
1040 2.6906 0.0073 0.0098
1220 2.6910 0.0099 0.0076
1400 2.6906 0.0083 0.0088
1580 2.6911 0.0092 0.0081
1760 2.6900 0.0078 0.0096
1940 2.6866 0.0087 0.0074
2120 2.6844 0.0081 0.0091
2300 2.6820 0.0098 0.0078
2480 2.6811 0.0074 0.0086
2660 2.6838 0.0091 0.0082
2840 2.6833 0.0084 0.0092
}\ndErb
\pgfplotstableread{
t c p m
20 2.6592 0.0059 0.0054
200 2.6595 0.0052 0.0064
370 2.6594 0.0065 0.0050
550 2.6593 0.0054 0.0061
730 2.6592 0.0061 0.0056
910 2.6594 0.0050 0.0067
1090 2.6597 0.0068 0.0052
1270 2.6600 0.0056 0.0060
1450 2.6602 0.0063 0.0055
1630 2.6605 0.0053 0.0065
1810 2.6607 0.0059 0.0050
1990 2.6608 0.0055 0.0062
2170 2.6599 0.0067 0.0053
2350 2.6595 0.0050 0.0059
2530 2.6593 0.0062 0.0056
2710 2.6594 0.0058 0.0063
2890 2.6594 0.0064 0.0052
}\ndErk

\pgfplotstableread{
t c p m
10 4.5112 0.0131 0.0118
95 4.5112 0.0116 0.0137
175 4.5112 0.0142 0.0113
250 4.5112 0.0110 0.0145
315 4.5112 0.0126 0.0124
405 4.5110 0.0147 0.0111
480 4.5102 0.0121 0.0140
545 4.5095 0.0137 0.0121
625 4.5084 0.0113 0.0149
705 4.5074 0.0128 0.0116
775 4.5070 0.0145 0.0130
865 4.5082 0.0118 0.0143
935 4.5095 0.0134 0.0112
1015 4.5102 0.0124 0.0134
1095 4.5109 0.0152 0.0120
1170 4.5112 0.0111 0.0147
1245 4.5110 0.0130 0.0126
1325 4.5104 0.0139 0.0114
1405 4.5100 0.0116 0.0138
1485 4.5100 0.0126 0.0123
1555 4.5100 0.0143 0.0110
1635 4.5100 0.0120 0.0142
1715 4.5100 0.0132 0.0119
1785 4.5100 0.0149 0.0128
1875 4.5100 0.0114 0.0146
1945 4.5100 0.0137 0.0117
2025 4.5097 0.0122 0.0133
2105 4.5090 0.0129 0.0122
2185 4.5082 0.0141 0.0113
2265 4.5074 0.0117 0.0141
2355 4.5065 0.0133 0.0125
2505 4.5057 0.0125 0.0132
2595 4.5057 0.0147 0.0116
2675 4.5057 0.0119 0.0144
2765 4.5057 0.0135 0.0121
2835 4.5057 0.0127 0.0131
}\ndNlr
\pgfplotstableread{
t c p m
60 4.5742 0.0079 0.0073
240 4.5748 0.0070 0.0087
410 4.5735 0.0088 0.0067
590 4.5696 0.0073 0.0083
770 4.5660 0.0082 0.0076
950 4.5742 0.0067 0.0090
1130 4.5720 0.0092 0.0070
1310 4.5730 0.0076 0.0081
1490 4.5746 0.0085 0.0074
1670 4.5739 0.0072 0.0088
1850 4.5725 0.0081 0.0068
2030 4.5728 0.0074 0.0084
2210 4.5745 0.0090 0.0072
2390 4.5749 0.0068 0.0079
2570 4.5746 0.0084 0.0076
2750 4.5732 0.0078 0.0085
2930 4.5692 0.0087 0.0071
}\ndNlg
\pgfplotstableread{
t c p m
130 4.4561 0.0065 0.0060
320 4.4560 0.0058 0.0071
500 4.4561 0.0073 0.0055
680 4.4587 0.0060 0.0068
860 4.4588 0.0068 0.0063
1040 4.4563 0.0055 0.0074
1220 4.4540 0.0075 0.0058
1400 4.4545 0.0063 0.0067
1580 4.4574 0.0070 0.0061
1760 4.4590 0.0059 0.0073
1940 4.4549 0.0066 0.0056
2120 4.4528 0.0061 0.0069
2300 4.4572 0.0074 0.0059
2480 4.4592 0.0056 0.0065
2660 4.4584 0.0069 0.0062
2840 4.4558 0.0064 0.0070
}\ndNlb
\pgfplotstableread{
t c p m
20 4.3952 0.0059 0.0054
200 4.3964 0.0052 0.0064
370 4.3972 0.0065 0.0050
550 4.3940 0.0054 0.0061
730 4.3927 0.0061 0.0056
910 4.3945 0.0050 0.0067
1090 4.3950 0.0068 0.0052
1270 4.3955 0.0056 0.0060
1450 4.3958 0.0063 0.0055
1630 4.3957 0.0053 0.0065
1810 4.3955 0.0059 0.0050
1990 4.3955 0.0055 0.0062
2170 4.3956 0.0067 0.0053
2350 4.3955 0.0050 0.0059
2530 4.3950 0.0062 0.0056
2710 4.3946 0.0058 0.0063
2890 4.3921 0.0064 0.0052
}\ndNlk

\pgfplotstableread{
t c p m
45 2.7313 0.0169 0.0151
130 2.7313 0.0149 0.0176
210 2.7313 0.0182 0.0146
285 2.7313 0.0142 0.0186
350 2.7313 0.0162 0.0159
440 2.7313 0.0189 0.0143
515 2.7311 0.0155 0.0180
580 2.7300 0.0176 0.0155
660 2.7283 0.0146 0.0192
740 2.7270 0.0165 0.0149
810 2.7280 0.0186 0.0167
900 2.7298 0.0151 0.0184
970 2.7308 0.0173 0.0144
1050 2.7318 0.0159 0.0173
1130 2.7326 0.0196 0.0154
1205 2.7333 0.0143 0.0189
1280 2.7341 0.0167 0.0162
1360 2.7348 0.0178 0.0147
1440 2.7355 0.0149 0.0177
1520 2.7360 0.0162 0.0158
1590 2.7364 0.0184 0.0142
1670 2.7368 0.0154 0.0182
1750 2.7373 0.0170 0.0153
1820 2.7377 0.0192 0.0165
1910 2.7383 0.0147 0.0188
1980 2.7386 0.0176 0.0150
2060 2.7386 0.0157 0.0171
2140 2.7384 0.0166 0.0157
2220 2.7383 0.0181 0.0146
2300 2.7380 0.0150 0.0181
2390 2.7373 0.0171 0.0161
2540 2.7357 0.0161 0.0170
2630 2.7349 0.0189 0.0149
2710 2.7341 0.0153 0.0185
2800 2.7334 0.0174 0.0155
2860 2.7330 0.0163 0.0169
}\ndNrr
\pgfplotstableread{
t c p m
60 2.7932 0.0078 0.0072
240 2.7921 0.0069 0.0085
410 2.7908 0.0087 0.0066
590 2.7895 0.0072 0.0082
770 2.7840 0.0081 0.0075
950 2.7928 0.0066 0.0089
1130 2.7924 0.0090 0.0069
1310 2.7905 0.0075 0.0080
1490 2.7860 0.0084 0.0073
1670 2.7853 0.0071 0.0087
1850 2.7820 0.0079 0.0067
2030 2.7787 0.0073 0.0083
2210 2.7786 0.0089 0.0071
2390 2.7795 0.0067 0.0078
2570 2.7805 0.0083 0.0074
2750 2.7801 0.0077 0.0084
2930 2.7782 0.0085 0.0070
}\ndNrg
\pgfplotstableread{
t c p m
130 2.6705 0.0073 0.0067
320 2.6720 0.0064 0.0080
500 2.6757 0.0081 0.0062
680 2.6762 0.0067 0.0076
860 2.6762 0.0076 0.0070
1040 2.6770 0.0062 0.0083
1220 2.6772 0.0084 0.0064
1400 2.6690 0.0070 0.0074
1580 2.6726 0.0078 0.0068
1760 2.6734 0.0066 0.0081
1940 2.6734 0.0074 0.0063
2120 2.6734 0.0068 0.0077
2300 2.6706 0.0083 0.0066
2480 2.6770 0.0063 0.0073
2660 2.6784 0.0077 0.0069
2840 2.6762 0.0072 0.0078
}\ndNrb
\pgfplotstableread{
t c p m
20 2.6116 0.0062 0.0058
200 2.6118 0.0055 0.0068
370 2.6119 0.0070 0.0053
550 2.6121 0.0058 0.0065
730 2.6122 0.0065 0.0060
910 2.6128 0.0053 0.0071
1090 2.6127 0.0072 0.0055
1270 2.6120 0.0060 0.0064
1450 2.6109 0.0067 0.0059
1630 2.6100 0.0057 0.0070
1810 2.6099 0.0063 0.0054
1990 2.6100 0.0059 0.0066
2170 2.6097 0.0071 0.0057
2350 2.6095 0.0054 0.0062
2530 2.6094 0.0066 0.0060
2710 2.6104 0.0061 0.0067
2890 2.6073 0.0068 0.0056
}\ndNrk

\pgfplotstableread{
t c p m
35 0.0040 0.0250 0.0224
120 0.0030 0.0220 0.0260
200 0.0010 0.0270 0.0216
275 -0.0010 0.0210 0.0276
340 -0.0030 0.0240 0.0236
430 -0.0030 0.0280 0.0212
505 -0.0020 0.0230 0.0266
570 0.0020 0.0260 0.0230
650 0.0050 0.0216 0.0284
730 0.0065 0.0244 0.0220
800 0.0070 0.0276 0.0248
890 0.0050 0.0224 0.0272
960 0.0040 0.0256 0.0214
1040 0.0040 0.0236 0.0256
1120 0.0040 0.0290 0.0228
1195 0.0030 0.0212 0.0280
1270 0.0010 0.0248 0.0240
1350 0.0000 0.0264 0.0218
1430 0.0000 0.0220 0.0262
1510 0.0000 0.0240 0.0234
1580 0.0000 0.0272 0.0210
1660 0.0000 0.0228 0.0270
1740 0.0000 0.0252 0.0226
1810 0.0000 0.0284 0.0244
1900 0.0000 0.0218 0.0278
1970 0.0000 0.0260 0.0222
2050 0.0000 0.0232 0.0254
2130 0.0000 0.0246 0.0232
2210 0.0000 0.0268 0.0216
2290 0.0000 0.0222 0.0268
2380 0.0000 0.0254 0.0238
2530 0.0000 0.0238 0.0252
2620 0.0000 0.0280 0.0220
2700 0.0000 0.0226 0.0274
2790 0.0000 0.0258 0.0230
2860 0.0000 0.0242 0.0250
}\ndUlr
\pgfplotstableread{
t c p m
60 0.0953 0.0153 0.0142
240 0.0966 0.0136 0.0168
410 0.0985 0.0171 0.0130
590 0.0993 0.0142 0.0160
770 0.0999 0.0159 0.0148
950 0.1022 0.0130 0.0175
1130 0.1050 0.0177 0.0136
1310 0.1121 0.0148 0.0157
1490 0.1172 0.0165 0.0144
1670 0.1177 0.0139 0.0171
1850 0.1134 0.0156 0.0132
2030 0.1090 0.0144 0.0163
2210 0.1055 0.0175 0.0139
2390 0.1030 0.0132 0.0153
2570 0.1020 0.0163 0.0146
2750 0.1016 0.0151 0.0165
2930 0.1035 0.0168 0.0137
}\ndUlg
\pgfplotstableread{
t c p m
130 -0.0998 0.0143 0.0132
320 -0.0950 0.0127 0.0156
500 -0.0960 0.0160 0.0121
680 -0.0960 0.0132 0.0150
860 -0.0990 0.0149 0.0138
1040 -0.1030 0.0121 0.0163
1220 -0.1080 0.0165 0.0127
1400 -0.1155 0.0138 0.0146
1580 -0.1210 0.0154 0.0134
1760 -0.1240 0.0130 0.0160
1940 -0.1130 0.0145 0.0123
2120 -0.1170 0.0134 0.0152
2300 -0.1100 0.0163 0.0130
2480 -0.1025 0.0123 0.0143
2660 -0.1010 0.0152 0.0136
2840 -0.0995 0.0141 0.0154
}\ndUlb
\pgfplotstableread{
t c p m
20 -0.2015 0.0124 0.0114
200 -0.2015 0.0109 0.0135
370 -0.2015 0.0138 0.0105
550 -0.2005 0.0114 0.0129
730 -0.2005 0.0128 0.0119
910 -0.1995 0.0105 0.0141
1090 -0.1980 0.0143 0.0109
1270 -0.1975 0.0119 0.0126
1450 -0.1975 0.0133 0.0116
1630 -0.1975 0.0112 0.0138
1810 -0.1990 0.0125 0.0106
1990 -0.2005 0.0116 0.0131
2170 -0.2000 0.0141 0.0112
2350 -0.2000 0.0106 0.0124
2530 -0.2000 0.0131 0.0118
2710 -0.2005 0.0122 0.0133
2890 -0.2005 0.0135 0.0110
}\ndUlk

\pgfplotstableread{
t c p m
5 -0.1757 0.0238 0.0213
85 -0.1749 0.0209 0.0247
165 -0.1744 0.0257 0.0205
240 -0.1740 0.0200 0.0262
305 -0.1737 0.0228 0.0224
395 -0.1730 0.0266 0.0201
470 -0.1725 0.0219 0.0253
535 -0.1724 0.0247 0.0219
615 -0.1727 0.0205 0.0270
695 -0.1732 0.0232 0.0209
765 -0.1735 0.0262 0.0236
855 -0.1739 0.0213 0.0258
925 -0.1750 0.0243 0.0203
1005 -0.1772 0.0224 0.0243
1085 -0.1776 0.0276 0.0217
1160 -0.1778 0.0201 0.0266
1235 -0.1780 0.0236 0.0228
1315 -0.1782 0.0251 0.0207
1395 -0.1784 0.0209 0.0249
1475 -0.1786 0.0228 0.0222
1545 -0.1787 0.0258 0.0200
1625 -0.1789 0.0217 0.0257
1705 -0.1791 0.0239 0.0215
1775 -0.1793 0.0270 0.0232
1865 -0.1794 0.0207 0.0264
1935 -0.1797 0.0247 0.0211
2015 -0.1801 0.0220 0.0241
2095 -0.1806 0.0234 0.0220
2175 -0.1814 0.0255 0.0205
2255 -0.1822 0.0211 0.0255
2345 -0.1838 0.0241 0.0226
2495 -0.1862 0.0226 0.0239
2585 -0.1869 0.0266 0.0209
2665 -0.1847 0.0215 0.0260
2755 -0.1822 0.0245 0.0219
2825 -0.1806 0.0230 0.0238
}\ndUrr
\pgfplotstableread{
t c p m
60 -0.0810 0.0160 0.0148
240 -0.0755 0.0141 0.0175
410 -0.0768 0.0178 0.0135
590 -0.0790 0.0148 0.0167
770 -0.0812 0.0166 0.0154
950 -0.0880 0.0135 0.0182
1130 -0.0920 0.0185 0.0141
1310 -0.0940 0.0154 0.0164
1490 -0.0882 0.0172 0.0150
1670 -0.0870 0.0145 0.0178
1850 -0.0860 0.0162 0.0138
2030 -0.0840 0.0150 0.0170
2210 -0.0805 0.0182 0.0145
2390 -0.0780 0.0138 0.0160
2570 -0.0777 0.0170 0.0153
2750 -0.0775 0.0157 0.0172
2930 -0.0775 0.0175 0.0143
}\ndUrg
\pgfplotstableread{
t c p m
130 -0.2550 0.0146 0.0134
320 -0.2770 0.0129 0.0159
500 -0.2563 0.0162 0.0123
680 -0.2640 0.0134 0.0152
860 -0.2660 0.0151 0.0140
1040 -0.2500 0.0123 0.0166
1220 -0.2435 0.0168 0.0129
1400 -0.2639 0.0140 0.0149
1580 -0.2687 0.0157 0.0137
1760 -0.2687 0.0132 0.0162
1940 -0.2677 0.0148 0.0125
2120 -0.2820 0.0137 0.0155
2300 -0.2925 0.0166 0.0132
2480 -0.2910 0.0125 0.0146
2660 -0.2805 0.0155 0.0139
2840 -0.2735 0.0143 0.0157
}\ndUrb
\pgfplotstableread{
t c p m
20 -0.3700 0.0113 0.0104
200 -0.3662 0.0100 0.0124
370 -0.3670 0.0126 0.0096
550 -0.3698 0.0104 0.0118
730 -0.3709 0.0117 0.0109
910 -0.3718 0.0096 0.0129
1090 -0.3728 0.0131 0.0100
1270 -0.3733 0.0109 0.0116
1450 -0.3742 0.0122 0.0106
1630 -0.3750 0.0103 0.0126
1810 -0.3757 0.0115 0.0097
1990 -0.3785 0.0106 0.0120
2170 -0.3830 0.0129 0.0103
2350 -0.3833 0.0097 0.0113
2530 -0.3810 0.0120 0.0108
2710 -0.3795 0.0111 0.0122
2890 -0.3797 0.0124 0.0101
}\ndUrk

% one noisy series = band between its upper and lower edge
\newcommand{\band}[4]{%
  \addplot[name path=u#2, draw=#4, line width=0.5bp, forget plot] table[x=t, y=#2] {#1};
  \addplot[name path=l#3, draw=#4, line width=0.5bp, forget plot] table[x=t, y=#3] {#1};
  \addplot[fill=#4, draw=none, forget plot] fill between[of=u#2 and l#3];
}
\newcommand{\needles}[2]{%
  \addplot[draw=none, mark=none, forget plot,
    error bars/y dir=both, error bars/y explicit, error bars/error mark=none,
    error bars/error bar style={draw=#2, line width=0.7bp}]
    table[x=t, y=c, y error plus=p, y error minus=m] {#1};
}
% #1 band table, #2..#5 needle tables for GPS, Beidou, GLONASS, Multi-GNSS
\newcommand{\panel}[5]{%
  \band{#1}{gu}{gl}{gpsc}
  \needles{#2}{gpsc}
  \band{#1}{ru}{rl}{red}
  \needles{#3}{red}
  \band{#1}{bu}{bl}{blue}
  \needles{#4}{blue}
  \band{#1}{ku}{kl}{black}
  \needles{#5}{black}
}

\pgfplotsset{
  panelax/.style={
    scale only axis, width=559.4bp,
    xmin=0, xmax=3000, xtick={0,500,1000,1500,2000,2500,3000},
    tick align=inside, major tick length=4.5bp,
    axis line style={draw=framec, line width=0.6bp},
    every tick/.style={draw=framec, line width=0.5bp},
    tick label style={font=\tickfont, text=labelc},
    label style={font=\labfont, text=labelc},
    xticklabel style={yshift=-3bp},
    unbounded coords=jump,
    /pgf/number format/assume math mode=true,
  },
  leftp/.style={panelax, ylabel style={at={(axis description cs:-0.074,0.5)}, anchor=center}},
  rightp/.style={panelax, width=559bp, ylabel style={at={(axis description cs:-0.0735,0.5)}, anchor=center}},
  noxl/.style={xticklabels={}},
  withxl/.style={xticklabels={0,500,1000,1500,2000,2500,3000}, xlabel={Time (s)},
    xlabel style={at={(axis description cs:0.5,-0.198)}, anchor=center}},
  spike/.style={line width=0.8bp, forget plot},
}

\begin{document}
\begin{tikzpicture}
\path (0,0) rectangle (1279bp,615bp);

% ---- E, left
\begin{axis}[leftp, noxl, at={(57.3bp,452.7bp)}, anchor=south west, height=152.3bp,
  ymin=0.3722, ymax=0.4770, ytick={0.38,0.4,0.42,0.44,0.46},
  yticklabels={0.38,0.4,0.42,0.44,0.46}, ylabel={E (m)}]
\panel{\tabEl}{\ndElg}{\ndElr}{\ndElb}{\ndElk}
\addplot[red, spike] coordinates {(42,0.443) (42,0.4625) (42,nan) (154,0.443) (154,0.4644) (154,nan)
  (215,0.443) (215,0.4241) (215,nan) (600,0.443) (600,0.4275) (600,nan) (865,0.443) (865,0.4612) (865,nan)
  (1290,0.443) (1290,0.4575) (1290,nan) (2306,0.443) (2306,0.4279) (2306,nan)
  (2446,0.443) (2446,0.4582) (2446,nan) (2860,0.443) (2860,0.4290)};
\addplot[blue, spike] coordinates {(364,0.405) (364,0.3955) (364,nan) (292,0.409) (292,0.4214)};
\end{axis}

% ---- E, right
\begin{axis}[rightp, noxl, at={(696bp,451.7bp)}, anchor=south west, height=151.6bp,
  ymin=2.653, ymax=2.7585, ytick={2.66,2.68,2.7,2.72,2.74},
  yticklabels={2.66,2.68,2.7,2.72,2.74}, ylabel={E (m)}]
\panel{\tabEr}{\ndErg}{\ndErr}{\ndErb}{\ndErk}
\addplot[red, spike] coordinates {(104,2.722) (104,2.7423) (104,nan) (392,2.722) (392,2.7045) (392,nan)
  (570,2.722) (570,2.7042) (570,nan) (665,2.722) (665,2.706) (665,nan) (862,2.722) (862,2.7417) (862,nan)
  (2186,2.721) (2186,2.706) (2186,nan) (2500,2.721) (2500,2.705) (2500,nan)
  (2607,2.721) (2607,2.7017) (2607,nan) (2970,2.721) (2970,2.739)};
\addplot[blue, spike] coordinates {(287,2.690) (287,2.6993)};
\end{axis}

% ---- N, left
\begin{axis}[leftp, noxl, at={(57.3bp,269.3bp)}, anchor=south west, height=152.4bp,
  ymin=4.386, ymax=4.583, ytick={4.4,4.45,4.5,4.55},
  yticklabels={4.4,4.45,4.5,4.55}, ylabel={N (m)}]
\panel{\tabNl}{\ndNlg}{\ndNlr}{\ndNlb}{\ndNlk}
\addplot[red, spike] coordinates {(316,4.511) (316,4.5293) (316,nan) (963,4.509) (963,4.4906) (963,nan)
  (2230,4.508) (2230,4.5358) (2230,nan) (2233,4.508) (2233,4.4755) (2233,nan)
  (2440,4.506) (2440,4.538) (2440,nan) (2443,4.506) (2443,4.4842)};
\end{axis}

% ---- N, right
\begin{axis}[rightp, noxl, at={(696bp,267.7bp)}, anchor=south west, height=152.3bp,
  ymin=2.602, ymax=2.801, ytick={2.65,2.7,2.75,2.8},
  yticklabels={2.65,2.7,2.75,2.8}, ylabel={N (m)}]
\panel{\tabNr}{\ndNrg}{\ndNrr}{\ndNrb}{\ndNrk}
\addplot[red, spike] coordinates {(2925,2.73) (2925,2.6830) (2925,nan) (2960,2.73) (2960,2.7740)};
\end{axis}

% ---- U, left (carries the legend)
\begin{axis}[leftp, withxl, at={(57.3bp,86bp)}, anchor=south west, height=153.3bp,
  ymin=-0.213, ymax=0.141, ytick={-0.2,-0.1,0,0.1},
  yticklabels={-0.2,-0.1,0,0.1}, ylabel={U (m)},
  legend columns=4,
  legend style={at={(axis description cs:1.0327,-0.463)}, anchor=center, draw=none, fill=none,
    font=\legfont, nodes={inner sep=2bp},
    /tikz/every odd column/.append style={column sep=2bp},
    /tikz/every even column/.append style={column sep=8bp}},
  legend image code/.code={\draw[line width=5bp] (0bp,0bp) -- (60bp,0bp);}]
\panel{\tabUl}{\ndUlg}{\ndUlr}{\ndUlb}{\ndUlk}
\addplot[red, spike] coordinates {(950,0.005) (950,0.044) (950,nan) (460,-0.003) (460,-0.041) (460,nan)
  (2250,0) (2250,0.058) (2250,nan) (2252,0) (2252,-0.054) (2252,nan)
  (2443,0) (2443,0.0385) (2443,nan) (2445,0) (2445,-0.062) (2445,nan) (2950,-0.04) (2950,-0.081)};
\addplot[blue, spike] coordinates {(175,-0.1) (175,-0.127) (175,nan) (354,-0.094) (354,-0.081) (354,nan)
  (283,-0.1) (283,-0.121)};
\addlegendimage{gpsleg}\addlegendentry{GPS;}
\addlegendimage{red}\addlegendentry{Beidou;}
\addlegendimage{blue}\addlegendentry{GLONASS;}
\addlegendimage{black}\addlegendentry{Multi-GNSS}
\end{axis}

% ---- U, right
\begin{axis}[rightp, withxl, at={(696bp,84.3bp)}, anchor=south west, height=152.4bp,
  ymin=-0.4, ymax=-0.061, ytick={-0.4,-0.3,-0.2,-0.1},
  yticklabels={-0.4,-0.3,-0.2,-0.1}, ylabel={U (m)}]
\panel{\tabUr}{\ndUrg}{\ndUrr}{\ndUrb}{\ndUrk}
\addplot[red, spike] coordinates {(210,-0.174) (210,-0.2165) (210,nan) (985,-0.177) (985,-0.222) (985,nan)
  (2600,-0.187) (2600,-0.230) (2600,nan) (2940,-0.19) (2940,-0.262)};
\end{axis}
\end{tikzpicture}
\end{document}
